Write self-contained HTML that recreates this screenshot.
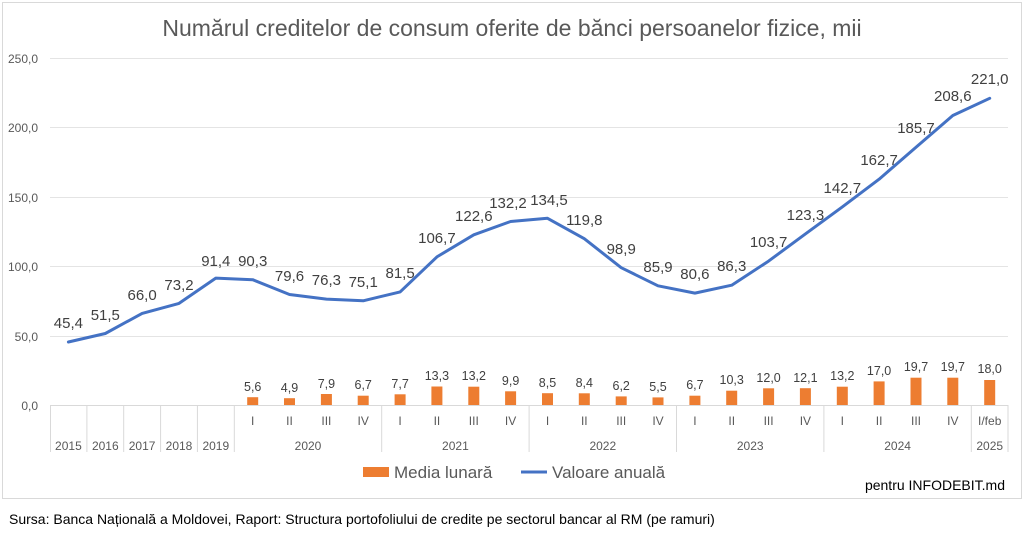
<!DOCTYPE html>
<html><head><meta charset="utf-8"><style>
body{margin:0;background:#fff;width:1024px;height:533px;overflow:hidden}
svg{font-family:"Liberation Sans",Arial,sans-serif}
</style></head><body>
<svg width="1024" height="533" viewBox="0 0 1024 533">
<rect x="2.5" y="2.5" width="1019" height="496" fill="#fff" stroke="#d9d9d9"/>
<text x="512" y="36" text-anchor="middle" font-size="23" fill="#595959">Numărul creditelor de consum oferite de bănci persoanelor fizice, mii</text>
<g stroke="#e4e4e4" stroke-width="1">
<line x1="50" x2="1008" y1="58.5" y2="58.5"/><line x1="50" x2="1008" y1="127.5" y2="127.5"/><line x1="50" x2="1008" y1="197.5" y2="197.5"/><line x1="50" x2="1008" y1="266.5" y2="266.5"/><line x1="50" x2="1008" y1="336.5" y2="336.5"/>
</g>
<g font-size="12" fill="#595959" text-anchor="end">
<text x="38" y="63">250,0</text><text x="38" y="132">200,0</text><text x="38" y="202">150,0</text><text x="38" y="271">100,0</text><text x="38" y="341">50,0</text><text x="38" y="410">0,0</text>
</g>
<g stroke="#d9d9d9" stroke-width="1">
<line x1="50" x2="1008" y1="405.5" y2="405.5"/>
<line x1="50.5" x2="50.5" y1="405" y2="452"/><line x1="86.9" x2="86.9" y1="405" y2="452"/><line x1="123.7" x2="123.7" y1="405" y2="452"/><line x1="160.6" x2="160.6" y1="405" y2="452"/><line x1="197.4" x2="197.4" y1="405" y2="452"/><line x1="234.3" x2="234.3" y1="405" y2="452"/><line x1="381.7" x2="381.7" y1="405" y2="452"/><line x1="529.1" x2="529.1" y1="405" y2="452"/><line x1="676.5" x2="676.5" y1="405" y2="452"/><line x1="823.9" x2="823.9" y1="405" y2="452"/><line x1="971.3" x2="971.3" y1="405" y2="452"/><line x1="1008" x2="1008" y1="405" y2="452"/>
</g>
<g font-size="12" fill="#595959" text-anchor="middle">
<text x="252.7" y="425">I</text><text x="289.5" y="425">II</text><text x="326.4" y="425">III</text><text x="363.2" y="425">IV</text>
<text x="400.1" y="425">I</text><text x="436.9" y="425">II</text><text x="473.8" y="425">III</text><text x="510.6" y="425">IV</text>
<text x="547.5" y="425">I</text><text x="584.3" y="425">II</text><text x="621.2" y="425">III</text><text x="658" y="425">IV</text>
<text x="694.9" y="425">I</text><text x="731.7" y="425">II</text><text x="768.6" y="425">III</text><text x="805.4" y="425">IV</text>
<text x="842.3" y="425">I</text><text x="879.1" y="425">II</text><text x="916" y="425">III</text><text x="952.8" y="425">IV</text>
<text x="989.7" y="425">I/feb</text>
<text x="68.4" y="450">2015</text><text x="105.3" y="450">2016</text><text x="142.1" y="450">2017</text><text x="179" y="450">2018</text><text x="215.8" y="450">2019</text>
<text x="308" y="450">2020</text><text x="455.4" y="450">2021</text><text x="602.8" y="450">2022</text><text x="750.2" y="450">2023</text><text x="897.6" y="450">2024</text><text x="989.7" y="450">2025</text>
</g>
<g fill="#ED7D31">
<rect x="247.2" y="397.2" width="11" height="7.8"/><rect x="284" y="398.2" width="11" height="6.8"/><rect x="320.9" y="394" width="11" height="11"/><rect x="357.7" y="395.7" width="11" height="9.3"/>
<rect x="394.6" y="394.3" width="11" height="10.7"/><rect x="431.4" y="386.5" width="11" height="18.5"/><rect x="468.3" y="386.7" width="11" height="18.3"/><rect x="505.1" y="391.3" width="11" height="13.7"/>
<rect x="542" y="393.2" width="11" height="11.8"/><rect x="578.8" y="393.3" width="11" height="11.7"/><rect x="615.7" y="396.4" width="11" height="8.6"/><rect x="652.5" y="397.4" width="11" height="7.6"/>
<rect x="689.4" y="395.7" width="11" height="9.3"/><rect x="726.2" y="390.7" width="11" height="14.3"/><rect x="763.1" y="388.3" width="11" height="16.7"/><rect x="799.9" y="388.2" width="11" height="16.8"/>
<rect x="836.8" y="386.7" width="11" height="18.3"/><rect x="873.6" y="381.4" width="11" height="23.6"/><rect x="910.5" y="377.7" width="11" height="27.3"/><rect x="947.3" y="377.7" width="11" height="27.3"/>
<rect x="984.2" y="380" width="11" height="25"/>
</g>
<g font-size="12.5" fill="#404040" text-anchor="middle">
<text x="252.7" y="391">5,6</text><text x="289.5" y="392">4,9</text><text x="326.4" y="388">7,9</text><text x="363.2" y="389">6,7</text>
<text x="400.1" y="388">7,7</text><text x="436.9" y="380">13,3</text><text x="473.8" y="380">13,2</text><text x="510.6" y="385">9,9</text>
<text x="547.5" y="387">8,5</text><text x="584.3" y="387">8,4</text><text x="621.2" y="390">6,2</text><text x="658" y="391">5,5</text>
<text x="694.9" y="389">6,7</text><text x="731.7" y="384">10,3</text><text x="768.6" y="382">12,0</text><text x="805.4" y="382">12,1</text>
<text x="842.3" y="380">13,2</text><text x="879.1" y="375">17,0</text><text x="916" y="371">19,7</text><text x="952.8" y="371">19,7</text>
<text x="989.7" y="373">18,0</text>
</g>
<polyline fill="none" stroke="#4472C4" stroke-width="3" stroke-linejoin="round" stroke-linecap="round" points="68.4,342 105.3,333.5 142.1,313.4 179,303.4 215.8,278.1 252.7,279.7 289.5,294.5 326.4,299.1 363.2,300.8 400.1,291.9 436.9,256.9 473.8,234.8 510.6,221.5 547.5,218.3 584.3,238.7 621.2,267.7 658,285.8 694.9,293.1 731.7,285.2 768.6,261.1 805.4,233.9 842.3,206.9 879.1,179.2 916,147.3 952.8,115.5 989.7,98.3"/>
<g font-size="15" fill="#404040" text-anchor="middle">
<text x="68.4" y="328">45,4</text><text x="105.3" y="320">51,5</text><text x="142.1" y="300">66,0</text><text x="179" y="290">73,2</text><text x="215.8" y="266">91,4</text><text x="252.7" y="266">90,3</text><text x="289.5" y="281">79,6</text><text x="326.4" y="285">76,3</text><text x="363.2" y="287">75,1</text><text x="400.1" y="278">81,5</text><text x="436.9" y="243">106,7</text><text x="473.8" y="221">122,6</text><text x="508" y="208">132,2</text><text x="549" y="205">134,5</text><text x="584.3" y="225">119,8</text><text x="621.2" y="254">98,9</text><text x="658" y="272">85,9</text><text x="694.9" y="279">80,6</text><text x="731.7" y="271">86,3</text><text x="768.6" y="247">103,7</text><text x="805.4" y="220">123,3</text><text x="842.3" y="193">142,7</text><text x="879.1" y="165">162,7</text><text x="916" y="133">185,7</text><text x="952.8" y="101">208,6</text><text x="989.7" y="84">221,0</text>
</g>
<rect x="363" y="467" width="26" height="10" fill="#ED7D31"/>
<text x="394" y="478" font-size="17" fill="#595959">Media lunară</text>
<line x1="521" x2="547" y1="472" y2="472" stroke="#4472C4" stroke-width="3"/>
<text x="552" y="478" font-size="17" fill="#595959">Valoare anuală</text>
<text x="1005" y="490" font-size="14" text-anchor="end" fill="#000">pentru INFODEBIT.md</text>
<text x="9" y="524" font-size="14" fill="#000">Sursa: Banca Națională a Moldovei, Raport: Structura portofoliului de credite pe sectorul bancar al RM (pe ramuri)</text>
</svg>
</body></html>
